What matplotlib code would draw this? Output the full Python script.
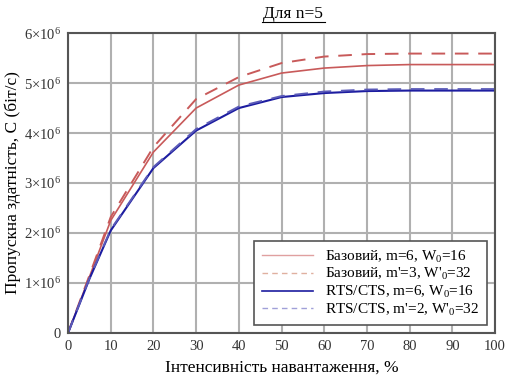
import matplotlib
matplotlib.use('Agg')
import matplotlib.pyplot as plt
from matplotlib.lines import Line2D
from matplotlib.ticker import FuncFormatter

plt.rcParams['font.family'] = ['Liberation Serif', 'DejaVu Serif']
plt.rcParams['mathtext.fontset'] = 'custom'
plt.rcParams['mathtext.rm'] = 'Liberation Serif'
plt.rcParams['mathtext.it'] = 'Liberation Serif:italic'

# Data (throughput in units of 1e6 bit/s)
load = [0, 5, 10, 20, 30, 40, 50, 60, 70, 80, 90, 100]
basic_m6 = [0, 1.12, 2.25, 3.62, 4.5, 4.96, 5.2, 5.3, 5.35, 5.37, 5.37, 5.37]
basic_m3 = [0, 1.15, 2.32, 3.72, 4.68, 5.12, 5.4, 5.53, 5.58, 5.59, 5.59, 5.59]
rts_m6 = [0, 1.08, 2.05, 3.3, 4.05, 4.5, 4.72, 4.8, 4.84, 4.85, 4.85, 4.85]
rts_m2 = [0, 1.09, 2.07, 3.32, 4.08, 4.53, 4.74, 4.83, 4.87, 4.88, 4.88, 4.88]

labels = [
    'Базовий, m=6, W$_0$=16',
    "Базовий, m'=3, W'$_0$=32",
    'RTS/CTS, m=6, W$_0$=16',
    "RTS/CTS, m'=2, W'$_0$=32",
]

fig = plt.figure(figsize=(5.13, 3.76), dpi=100)
ax = fig.add_axes([0.1326, 0.1144, 0.8324, 0.7976])

ax.plot(load, basic_m6, color='#c85a5a', lw=1.2, label=labels[0])
ax.plot(load, basic_m3, color='#c85a5a', lw=1.4, ls=(0, (7, 5)), label=labels[1])
ax.plot(load, rts_m6, color='#1c1ca0', lw=1.5, label=labels[2])
ax.plot(load, rts_m2, color='#5a5ab8', lw=1.4, ls=(0, (7, 5)), label=labels[3])

ax.set_xlim(0, 100)
ax.set_ylim(0, 6)
ax.set_xticks(range(0, 101, 10))
ax.set_yticks(range(0, 7))
ax.yaxis.set_major_formatter(FuncFormatter(
    lambda v, p: '0' if v == 0 else r'%d$\times$10$^6$' % v))
ax.tick_params(length=0, labelsize=10.5, colors='#333333', pad=5)
ax.grid(color='#b0b0b0', lw=1.5)
for s in ax.spines.values():
    s.set_color('#555555')
    s.set_linewidth(1.5)

ax.set_xlabel('Інтенсивність навантаження, %', fontsize=12.5, labelpad=5)
ax.set_ylabel('Пропускна здатність, C (біт/с)', fontsize=12.5, labelpad=2)

fig.text(0.571, 0.962, 'Для n=5', ha='center', va='center', fontsize=12.5)
fig.add_artist(Line2D([0.51, 0.634], [0.942, 0.942], color='black', lw=0.8))

leg_handles = [
    Line2D([], [], color='#e0a0a0', lw=1.0),
    Line2D([], [], color='#e0b0a0', lw=1.0, ls=(0, (4, 3))),
    Line2D([], [], color='#1c1ca0', lw=1.2),
    Line2D([], [], color='#a0a0d8', lw=1.0, ls=(0, (4, 3))),
]
leg = ax.legend(leg_handles, labels, loc='lower right', fontsize=11,
                fancybox=False, edgecolor='#555555', framealpha=1,
                handlelength=3.3, labelspacing=0.1, borderpad=0.5,
                bbox_to_anchor=(0.998, 0.0))
leg.get_frame().set_linewidth(1.2)

fig.savefig('out.png', dpi=100)
